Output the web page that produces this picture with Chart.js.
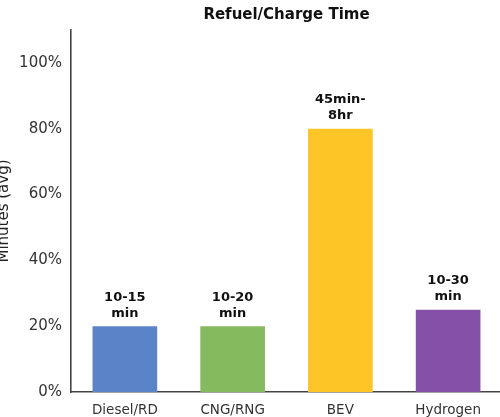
<!DOCTYPE html>
<html>
<head>
<meta charset="utf-8">
<script src="https://cdn.jsdelivr.net/npm/chart.js@4/dist/chart.umd.min.js"></script>
<style>
  html, body { margin: 0; padding: 0; background: #fff; overflow: hidden; }
  body { width: 500px; height: 417px; position: relative; }
  #wrap { position: absolute; left: -9px; top: 0; width: 512px; height: 417px; }
</style>
</head>
<body>
<div id="wrap"><canvas id="c" width="512" height="417"></canvas></div>
<script>
// Refuel / charge time by fuel type (bar height in % of scale, label = time range)
const categories = ['Diesel/RD', 'CNG/RNG', 'BEV', 'Hydrogen'];
const values = [20, 20, 80, 25];
const barLabels = [['10-15', 'min'], ['10-20', 'min'], ['45min-', '8hr'], ['10-30', 'min']];
const barColors = ['#5b84c8', '#86ba5e', '#fec526', '#8550a8'];
const yTicks = [0, 20, 40, 60, 80, 100];
const yMax = 110;

const FONT = "'DejaVu Sans', sans-serif";
const AXIS = '#444';

// Bold two-line labels above each bar, and the chart title over the plot area
const annotate = {
  id: 'annotate',
  afterDatasetsDraw(chart) {
    const ctx = chart.ctx;
    const meta = chart.getDatasetMeta(0);
    ctx.save();
    ctx.fillStyle = '#111';
    ctx.textAlign = 'center';
    ctx.textBaseline = 'middle';
    ctx.font = 'bold 13px ' + FONT;
    meta.data.forEach((bar, i) => {
      const lines = barLabels[i];
      const n = lines.length;
      lines.forEach((t, k) => {
        ctx.fillText(t, bar.x, bar.y - 13 - (n - 1 - k) * 16);
      });
    });
    const a = chart.chartArea;
    ctx.font = 'bold 15px ' + FONT;
    ctx.fillText('Refuel/Charge Time', (a.left + a.right) / 2, 15);
    ctx.restore();
  }
};

new Chart(document.getElementById('c'), {
  type: 'bar',
  data: {
    labels: categories,
    datasets: [{
      data: values,
      backgroundColor: barColors,
      borderWidth: 0,
      categoryPercentage: 1,
      barPercentage: 0.6
    }]
  },
  options: {
    responsive: false,
    animation: false,
    devicePixelRatio: 1,
    layout: { padding: { top: 30, right: 1, bottom: 0, left: 0 } },
    plugins: {
      legend: { display: false },
      tooltip: { enabled: false },
      title: { display: false }
    },
    scales: {
      x: {
        grid: { display: false, drawTicks: true, tickLength: 5, tickColor: AXIS, tickWidth: 1.5 },
        border: { display: true, color: AXIS, width: 1.6 },
        ticks: { color: '#333', font: { family: FONT, size: 13.5 }, padding: 5 },
        afterFit(scale) { scale.height = 25; }
      },
      y: {
        min: 0,
        max: yMax,
        grid: { display: false, drawTicks: true, tickLength: 5, tickColor: AXIS, tickWidth: 1.5 },
        border: { display: true, color: AXIS, width: 1.6 },
        ticks: {
          color: '#333',
          font: { family: FONT, size: 15 },
          padding: 4,
          callback: v => v + '%'
        },
        afterBuildTicks(scale) { scale.ticks = yTicks.map(v => ({ value: v })); },
        title: {
          display: true,
          text: 'Minutes (avg)',
          color: '#222',
          font: { family: FONT, size: 15 },
          padding: { top: 4, bottom: 0 }
        },
        afterFit(scale) { scale.width = 80; }
      }
    }
  },
  plugins: [annotate]
});
</script>
</body>
</html>
